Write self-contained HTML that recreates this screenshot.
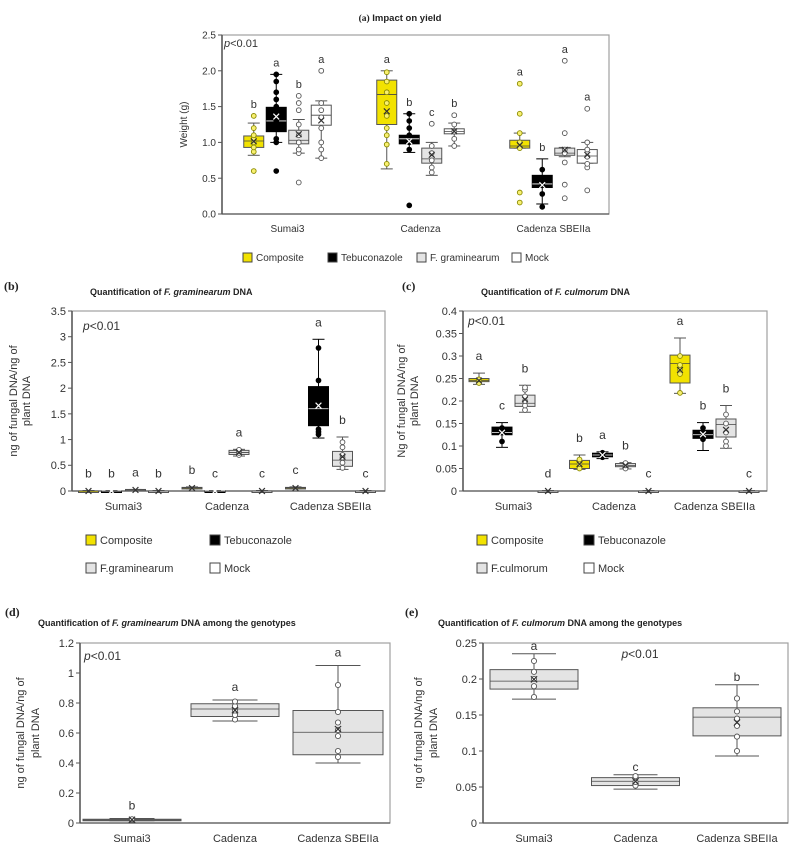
<!DOCTYPE html>
<html><head><meta charset="utf-8">
<style>
body{margin:0;background:#fff;}
svg{display:block;font-family:"Liberation Sans",sans-serif;}
</style></head>
<body>
<svg id="fig" width="799" height="858" viewBox="0 0 799 858" xmlns="http://www.w3.org/2000/svg">
<g id="titles">
<text x="400" y="21" text-anchor="middle" font-size="9.5" font-weight="bold" fill="#222"><tspan font-family="Liberation Serif">(a)</tspan>   Impact on yield</text>
<text x="4" y="290" font-size="12" font-weight="bold" font-family="Liberation Serif" fill="#222">(b)</text>
<text x="90" y="295" font-size="9" font-weight="bold" fill="#222">Quantification of <tspan font-style="italic">F. graminearum</tspan> DNA</text>
<text x="402" y="290" font-size="12" font-weight="bold" font-family="Liberation Serif" fill="#222">(c)</text>
<text x="481" y="295" font-size="9" font-weight="bold" fill="#222">Quantification of <tspan font-style="italic">F. culmorum</tspan> DNA</text>
<text x="5" y="616" font-size="12" font-weight="bold" font-family="Liberation Serif" fill="#222">(d)</text>
<text x="38" y="626" font-size="9" font-weight="bold" fill="#222">Quantification of <tspan font-style="italic">F. graminearum</tspan> DNA among the genotypes</text>
<text x="405" y="616" font-size="12" font-weight="bold" font-family="Liberation Serif" fill="#222">(e)</text>
<text x="438" y="626" font-size="9" font-weight="bold" fill="#222">Quantification of <tspan font-style="italic">F. culmorum</tspan> DNA among the genotypes</text>
</g>
</svg>
<script>
// ---------- DATA ----------
const categories = ["Sumai3","Cadenza","Cadenza SBEIIa"];
const treatments = ["Composite","Tebuconazole","F. graminearum","Mock"];
// Panel (a) yield, order: cat x treatment
const aQ1  = [0.93,1.15,0.98,1.24, 1.25,0.98,0.71,1.12, 0.92,0.37,0.82,0.71];
const aMed = [1.02,1.30,1.03,1.38, 1.67,1.05,0.77,1.15, 0.95,0.42,0.85,0.81];
const aQ3  = [1.09,1.49,1.17,1.52, 1.87,1.10,0.92,1.19, 1.03,0.54,0.92,0.90];
const aLo  = [0.82,1.00,0.85,0.78, 0.63,0.86,0.54,0.95, 0.92,0.14,0.80,0.71];
const aHi  = [1.27,1.95,1.32,1.58, 2.00,1.40,1.00,1.27, 1.13,0.77,0.93,1.00];
const aPts = [[0.6,0.87,0.93,1.0,1.05,1.1,1.2,1.37],[0.6,1.0,1.05,1.2,1.3,1.5,1.6,1.7,1.85,1.95],[0.44,0.85,0.9,1.0,1.1,1.25,1.45,1.55,1.65],[0.78,0.9,1.0,1.2,1.35,1.45,1.55,2.0],
  [0.7,0.97,1.1,1.2,1.37,1.55,1.7,1.85,1.98],[0.12,0.9,1.0,1.1,1.2,1.3,1.4],[0.58,0.65,0.75,0.85,0.95,1.26],[0.95,1.05,1.15,1.25,1.38],
  [0.16,0.3,0.92,1.0,1.13,1.4,1.82],[0.1,0.28,0.4,0.5,0.62],[0.22,0.41,0.72,0.85,0.9,1.13,2.14],[0.33,0.65,0.7,0.8,0.9,1.0,1.47]];
const aLetters = ["b","a","b","a","a","b","c","b","a","b","a","a"];
const aTicks = ["0.0","0.5","1.0","1.5","2.0","2.5"];
// Panel (b) F. graminearum
const bQ1  = [0,0,0.01,0, 0.04,0,0.71,0, 0.04,1.27,0.48,0];
const bMed = [0,0,0.02,0, 0.06,0,0.75,0, 0.06,1.60,0.60,0];
const bQ3  = [0,0,0.03,0, 0.07,0,0.79,0, 0.07,2.03,0.77,0];
const bLo  = [0,0,0.01,0, 0.04,0,0.68,0, 0.04,1.03,0.42,0];
const bHi  = [0.01,0.01,0.03,0.01, 0.08,0.01,0.81,0.01, 0.08,2.95,1.05,0.01];
const bPts = [[],[],[],[],[],[],[0.7,0.74,0.77,0.8],[],[],[1.1,1.15,1.2,2.15,2.78],[0.45,0.55,0.65,0.7,0.85,0.95],[]];
const bLetters = ["b","b","a","b","b","c","a","c","c","a","b","c"];
const bTicks = ["0","0.5","1","1.5","2","2.5","3","3.5"];
// Panel (c) F. culmorum
const cQ1  = [0.243,0.125,0.188,0, 0.050,0.076,0.054,0, 0.240,0.117,0.120,0];
const cMed = [0.246,0.130,0.195,0, 0.060,0.080,0.057,0, 0.283,0.125,0.148,0];
const cQ3  = [0.250,0.142,0.213,0, 0.068,0.084,0.061,0, 0.302,0.135,0.160,0];
const cLo  = [0.237,0.097,0.175,0, 0.048,0.072,0.049,0, 0.217,0.090,0.095,0];
const cHi  = [0.262,0.152,0.235,0.001, 0.080,0.087,0.063,0.001, 0.340,0.152,0.190,0.001];
const cPts = [[0.24,0.248],[0.11,0.13,0.14],[0.18,0.19,0.2,0.21,0.225,0.23],[],[0.05,0.06,0.07],[0.075,0.08,0.085],[0.05,0.057,0.062],[],[0.218,0.26,0.27,0.28,0.3],[0.115,0.12,0.13,0.14],[0.1,0.11,0.13,0.15,0.17],[]];
const cLetters = ["a","c","b","d","b","a","b","c","a","b","b","c"];
const cTicks = ["0","0.05","0.1","0.15","0.2","0.25","0.3","0.35","0.4"];
// Panel (d)
const dQ1  = [0.018,0.71,0.455];
const dMed = [0.020,0.76,0.605];
const dQ3  = [0.025,0.795,0.75];
const dLo  = [0.015,0.68,0.40];
const dHi  = [0.030,0.82,1.05];
const dPts = [[0.02,0.025],[0.69,0.72,0.75,0.78,0.81],[0.44,0.48,0.58,0.62,0.67,0.74,0.92]];
const dLetters = ["b","a","a"];
const dTicks = ["0","0.2","0.4","0.6","0.8","1","1.2"];
// Panel (e)
const eQ1  = [0.186,0.052,0.121];
const eMed = [0.197,0.058,0.147];
const eQ3  = [0.213,0.063,0.160];
const eLo  = [0.172,0.047,0.093];
const eHi  = [0.235,0.067,0.192];
const ePts = [[0.175,0.19,0.2,0.21,0.225],[0.052,0.057,0.065],[0.1,0.12,0.135,0.145,0.155,0.173]];
const eLetters = ["a","c","b"];
const eTicks = ["0","0.05","0.1","0.15","0.2","0.25"];

// ---------- DRAW ----------
const NS="http://www.w3.org/2000/svg";
const svg=document.getElementById('fig');
function el(tag,attrs,parent){const e=document.createElementNS(NS,tag);for(const k in attrs)e.setAttribute(k,attrs[k]);(parent||svg).appendChild(e);return e;}
const fills=["#f2e200","#000","#e4e4e4","#fff"];
const ptStyle=[{f:"#f8f070",s:"#8a8a00"},{f:"#000",s:"#000"},{f:"#fff",s:"#555"},{f:"#fff",s:"#555"}];

function panel(P){
  const g=el('g',{});
  
  
  const vmax=parseFloat(P.ticks[P.ticks.length-1]);
  const y=v=>P.y1-(v/vmax)*(P.y1-P.y0);
  const frame=el('rect',{x:P.x0,y:P.y0,width:P.x1-P.x0,height:P.y1-P.y0,fill:"none",stroke:"#a0a0a0","stroke-width":1.2},g);
  
  
  const ax=el('line',{x1:P.x0,y1:P.y0,x2:P.x0,y2:P.y1,stroke:"#555","stroke-width":1.5},g);
  
  
  const bx=el('line',{x1:P.x0,y1:P.y1,x2:P.x1,y2:P.y1,stroke:"#555","stroke-width":1.2},g);
  
  
  P.ticks.forEach(t=>{
    const v=parseFloat(t),yy=y(v);
    el('line',{x1:P.x0-4,y1:yy,x2:P.x0,y2:yy,stroke:"#555"},g);
    const tx=el('text',{x:P.x0-6,y:yy+P.fs*0.36,"text-anchor":"end","font-size":P.fs,fill:"#333"},g);
    tx.textContent=t;
    
    
  });
  categories.forEach((c,i)=>{
    const t=el('text',{x:P.catX(i),y:P.y1+P.fs+8,"text-anchor":"middle","font-size":P.fs,fill:"#333"},g);
    t.textContent=c;
    
    
  });
  const n=P.q1.length;
  for(let k=0;k<n;k++){
    const cx=P.boxX(k), w=(P.bws?P.bws[k]:P.bw), s=P.ser(k);
    const bg=el('g',{},g);
    
    
    const stroke=s===1?"#000":"#555";
    el('line',{x1:cx,y1:y(P.lo[k]),x2:cx,y2:y(P.q1[k]),stroke:stroke,"stroke-width":1},bg);
    el('line',{x1:cx,y1:y(P.hi[k]),x2:cx,y2:y(P.q3[k]),stroke:stroke,"stroke-width":1},bg);
    el('line',{x1:cx-P.bw*P.cap,y1:y(P.lo[k]),x2:cx+P.bw*P.cap,y2:y(P.lo[k]),stroke:stroke},bg);
    el('line',{x1:cx-P.bw*P.cap,y1:y(P.hi[k]),x2:cx+P.bw*P.cap,y2:y(P.hi[k]),stroke:stroke},bg);
    const h=Math.max(y(P.q1[k])-y(P.q3[k]),1.5);
    el('rect',{x:cx-w/2,y:y(P.q3[k]),width:w,height:h,fill:fills[s],stroke:stroke,"stroke-width":1},bg);
    el('line',{x1:cx-w/2,y1:y(P.med[k]),x2:cx+w/2,y2:y(P.med[k]),stroke:s===1?"#fff":"#444","stroke-width":0.8},bg);
    const st=ptStyle[s];
    P.pts[k].forEach(v=>{
      el('circle',{cx:cx,cy:y(v),r:P.r,fill:st.f,stroke:st.s,"stroke-width":0.9},bg);
    });
    const allv=P.pts[k].concat([P.q1[k],P.med[k],P.q3[k]]);
    const mean=allv.reduce((a,b)=>a+b,0)/allv.length;
    const my=y(mean),ms=P.r+0.5;
    el('path',{d:`M${cx-ms},${my-ms}L${cx+ms},${my+ms}M${cx-ms},${my+ms}L${cx+ms},${my-ms}`,stroke:s===1?"#fff":"#333","stroke-width":1.2},bg);
    const top=Math.max(P.hi[k],...P.pts[k],P.q3[k]);
    const lt=el('text',{x:cx,y:y(top)-P.loff,"text-anchor":"middle","font-size":P.lfs,fill:"#333"},g);
    lt.textContent=P.letters[k];
    
    
  }
  const pt=el('text',{x:P.px,y:P.py,"font-size":P.fs+1,fill:"#333","text-anchor":P.pAnchor||"start"},g);
  pt.innerHTML='<tspan font-style="italic">p</tspan>&lt;0.01';
  
  
  P.ylab.forEach((line,i)=>{
    const xx=P.ylx[i], yy=(P.y0+P.y1)/2;
    const t=el('text',{x:xx,y:yy,"text-anchor":"middle","font-size":P.yfs||P.fs,fill:"#333",transform:`rotate(-90 ${xx} ${yy})`},g);
    t.textContent=line;
    
    
  });
}

// Panel a
const aCat=i=>287.5+i*133;
panel({name:'panel-a-yield',x0:222,x1:609,y0:35,y1:214,ticks:aTicks,fs:10,lfs:11,yfs:10,
  q1:aQ1,med:aMed,q3:aQ3,lo:aLo,hi:aHi,pts:aPts,letters:aLetters,
  catX:aCat,boxX:k=>aCat(Math.floor(k/4))+[-33.75,-11.25,11.25,33.75][k%4],ser:k=>k%4,bw:20,cap:0.3,r:2.4,loff:8,
  px:224,py:47,ylab:["Weight (g)"],ylx:[187]});
// Panel b
const bCat=i=>123.5+i*103.5;
panel({name:'panel-b-fgraminearum',x0:72,x1:385,y0:311,y1:491,ticks:bTicks,fs:11,lfs:12,
  q1:bQ1,med:bMed,q3:bQ3,lo:bLo,hi:bHi,pts:bPts,letters:bLetters,
  catX:bCat,boxX:k=>bCat(Math.floor(k/4))+[-35,-12,12,35][k%4],ser:k=>k%4,bw:20,cap:0.3,r:2.4,loff:13,
  px:83,py:330,ylab:["ng of fungal DNA/ng of","plant DNA"],ylx:[17,30]});
// Panel c
const cCat=i=>513.5+i*100.5;
panel({name:'panel-c-fculmorum',x0:463,x1:767,y0:311,y1:491,ticks:cTicks,fs:11,lfs:12,
  q1:cQ1,med:cMed,q3:cQ3,lo:cLo,hi:cHi,pts:cPts,letters:cLetters,
  catX:cCat,boxX:k=>cCat(Math.floor(k/4))+[-34.5,-11.5,11.5,34.5][k%4],ser:k=>k%4,bw:20,cap:0.3,r:2.4,loff:13,
  px:468,py:325,ylab:["Ng of fungal DNA/ng of","plant DNA"],ylx:[405,418]});
// Panel d
const dCat=i=>132+i*103;
panel({name:'panel-d-fgraminearum-genotypes',x0:80,x1:390,y0:643,y1:823,ticks:dTicks,fs:11,lfs:12,
  q1:dQ1,med:dMed,q3:dQ3,lo:dLo,hi:dHi,pts:dPts,letters:dLetters,
  catX:dCat,boxX:k=>dCat(k),ser:k=>2,bw:90,bws:[98,88,90],cap:0.25,r:2.6,loff:9,
  px:84,py:660,ylab:["ng of fungal DNA/ng of","plant DNA"],ylx:[24,39]});
// Panel e
const eCat=i=>534+i*101.5;
panel({name:'panel-e-fculmorum-genotypes',x0:483,x1:788,y0:643,y1:823,ticks:eTicks,fs:11,lfs:12,
  q1:eQ1,med:eMed,q3:eQ3,lo:eLo,hi:eHi,pts:ePts,letters:eLetters,
  catX:eCat,boxX:k=>eCat(k),ser:k=>2,bw:88,cap:0.25,r:2.6,loff:4,
  px:640,py:658,pAnchor:"middle",ylab:["ng of fungal DNA/ng of","plant DNA"],ylx:[422,437]});

// Legends
function legend(items){
  items.forEach(it=>{
    const g=el('g',{});
    
    
    el('rect',{x:it.x,y:it.y-it.s+1,width:it.s,height:it.s,fill:fills[it.i],stroke:"#444","stroke-width":1},g);
    const t=el('text',{x:it.x+it.s+4,y:it.y,"font-size":it.fs,fill:"#333"},g);
    t.textContent=it.label;
  });
}
legend([
 {x:243,y:261,s:9,i:0,fs:10,label:"Composite"},{x:328,y:261,s:9,i:1,fs:10,label:"Tebuconazole"},
 {x:417,y:261,s:9,i:2,fs:10,label:"F. graminearum"},{x:512,y:261,s:9,i:3,fs:10,label:"Mock"},
 {x:86,y:544,s:10,i:0,fs:11,label:"Composite"},{x:210,y:544,s:10,i:1,fs:11,label:"Tebuconazole"},
 {x:86,y:572,s:10,i:2,fs:11,label:"F.graminearum"},{x:210,y:572,s:10,i:3,fs:11,label:"Mock"},
 {x:477,y:544,s:10,i:0,fs:11,label:"Composite"},{x:584,y:544,s:10,i:1,fs:11,label:"Tebuconazole"},
 {x:477,y:572,s:10,i:2,fs:11,label:"F.culmorum"},{x:584,y:572,s:10,i:3,fs:11,label:"Mock"}
]);
</script>
</body></html>
